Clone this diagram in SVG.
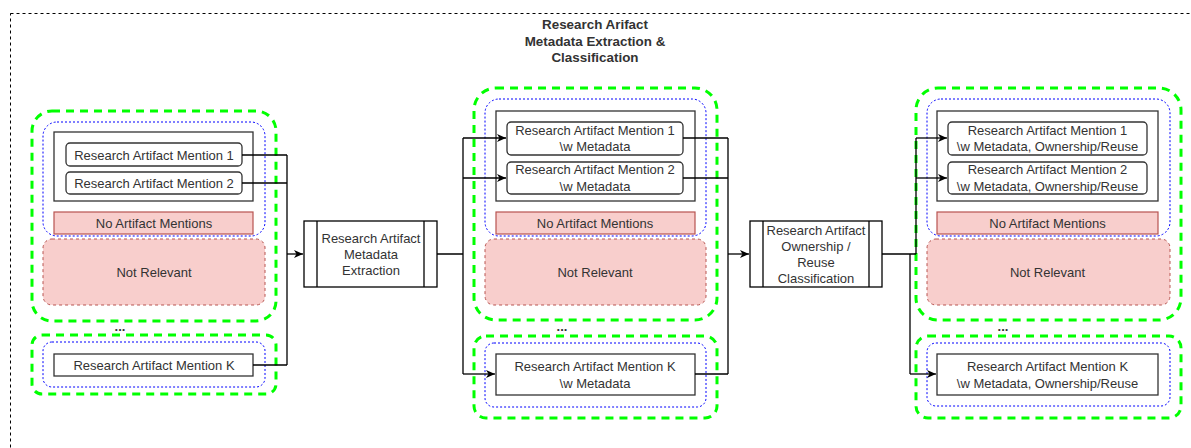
<svg xmlns="http://www.w3.org/2000/svg" width="1191" height="448" viewBox="0 0 1191 448">
  <style>
    text { font-family: "Liberation Sans", Arial, sans-serif; font-size: 13px; fill: #333333; text-anchor: middle; }
    .title { font-weight: bold; font-size: 13.4px; }
    .dots { font-weight: bold; }
    .frame { fill: none; stroke: #000000; stroke-width: 1; stroke-dasharray: 3 3; }
    .green { fill: none; stroke: #00ff00; stroke-width: 3; stroke-dasharray: 8 6; }
    .blue { fill: none; stroke: #0000ff; stroke-width: 1; stroke-dasharray: 2 2; }
    .box { fill: #ffffff; stroke: #333333; stroke-width: 1.3; }
    .item { fill: #ffffff; stroke: #333333; stroke-width: 1.3; }
    .none { fill: #f8cecc; stroke: #b85450; stroke-width: 1.2; }
    .irrelevant { fill: #f8cecc; stroke: #b85450; stroke-width: 1; stroke-dasharray: 3 3; }
    .proc { fill: #ffffff; stroke: #000000; stroke-width: 1.3; }
    .edge { fill: none; stroke: #000000; stroke-width: 1.3; }
    .arrow { marker-end: url(#head); }
  </style>
  <defs>
    <marker id="head" markerUnits="userSpaceOnUse" markerWidth="10" markerHeight="10" refX="9" refY="4" orient="auto">
      <path d="M0,0 L9,4 L0,8 L2.5,4 Z" fill="#000000"/>
    </marker>
  </defs>

  <rect class="frame" x="10.5" y="13.5" width="1200" height="460"/>

  <g id="title">
    <text class="title" x="595" y="29">Research Arifact</text>
    <text class="title" x="595" y="46">Metadata Extraction &amp;</text>
    <text class="title" x="595" y="62">Classification</text>
  </g>

  <!-- input mentions -->
  <g id="input-group">
    <rect class="green" x="32" y="111" width="244" height="210" rx="20"/>
    <rect class="blue" x="43" y="122" width="222" height="114" rx="14"/>
    <rect class="box" x="54" y="132" width="199" height="69"/>
    <g id="in-mention-1">
      <rect class="item" x="66" y="143" width="176" height="23" rx="4"/>
      <text x="154" y="159.5">Research Artifact Mention 1</text>
    </g>
    <g id="in-mention-2">
      <rect class="item" x="66" y="172" width="176" height="22" rx="4"/>
      <text x="154" y="187.5">Research Artifact Mention 2</text>
    </g>
    <g id="in-none">
      <rect class="none" x="54" y="212" width="199" height="22"/>
      <text x="154" y="227.5">No Artifact Mentions</text>
    </g>
    <g id="in-irrelevant">
      <rect class="irrelevant" x="43" y="239" width="222" height="66" rx="9"/>
      <text x="154" y="276.5">Not Relevant</text>
    </g>
    <text class="dots" x="120" y="331">...</text>
  </g>
  <g id="input-group-k">
    <rect class="green" x="32" y="335" width="244" height="59" rx="10"/>
    <rect class="blue" x="43" y="342" width="222" height="45" rx="9"/>
    <g id="in-mention-k">
      <rect class="box" x="54" y="354" width="199" height="22"/>
      <text x="154" y="369.5">Research Artifact Mention K</text>
    </g>
  </g>

  <!-- processing steps -->
  <g id="extraction">
    <rect class="proc" x="304" y="221" width="133" height="66"/>
    <line class="proc" x1="317" y1="221" x2="317" y2="287"/>
    <line class="proc" x1="424" y1="221" x2="424" y2="287"/>
    <text x="371" y="242.5">Research Artifact</text>
    <text x="371" y="258.5">Metadata</text>
    <text x="371" y="274.5">Extraction</text>
  </g>

  <g id="classification">
    <rect class="proc" x="750" y="221" width="132" height="66"/>
    <line class="proc" x1="763" y1="221" x2="763" y2="287"/>
    <line class="proc" x1="869" y1="221" x2="869" y2="287"/>
    <text x="816" y="234.5">Research Artifact</text>
    <text x="816" y="250.5">Ownership /</text>
    <text x="816" y="266.5">Reuse</text>
    <text x="816" y="282.5">Classification</text>
  </g>

  <!-- mentions with metadata -->
  <g id="metadata-group">
    <rect class="green" x="474" y="88" width="243" height="232" rx="22"/>
    <rect class="blue" x="485" y="99" width="221" height="137" rx="14"/>
    <rect class="box" x="496" y="111" width="199" height="90"/>
    <g id="md-mention-1">
      <rect class="item" x="507" y="122" width="176" height="33" rx="4"/>
      <text x="595" y="134.5">Research Artifact Mention 1</text>
      <text x="595" y="150.5">\w Metadata</text>
    </g>
    <g id="md-mention-2">
      <rect class="item" x="507" y="162" width="176" height="32" rx="4"/>
      <text x="595" y="173.5">Research Artifact Mention 2</text>
      <text x="595" y="190.5">\w Metadata</text>
    </g>
    <g id="md-none">
      <rect class="none" x="496" y="212" width="199" height="22"/>
      <text x="595" y="227.5">No Artifact Mentions</text>
    </g>
    <g id="md-irrelevant">
      <rect class="irrelevant" x="485" y="239" width="221" height="66" rx="9"/>
      <text x="595" y="276.5">Not Relevant</text>
    </g>
    <text class="dots" x="562" y="331">...</text>
  </g>
  <g id="metadata-group-k">
    <rect class="green" x="474" y="336" width="243" height="82" rx="12"/>
    <rect class="blue" x="485" y="343" width="221" height="64" rx="9"/>
    <g id="md-mention-k">
      <rect class="box" x="496" y="354" width="199" height="41"/>
      <text x="595" y="370.5">Research Artifact Mention K</text>
      <text x="595" y="387.5">\w Metadata</text>
    </g>
  </g>

  <!-- mentions with metadata and ownership/reuse -->
  <g id="classified-group">
    <rect class="green" x="916" y="88" width="265" height="232" rx="22"/>
    <rect class="blue" x="927" y="99" width="243" height="137" rx="14"/>
    <rect class="box" x="937" y="111" width="221" height="90"/>
    <g id="cl-mention-1">
      <rect class="item" x="948" y="122" width="199" height="33" rx="4"/>
      <text x="1047.5" y="134.5">Research Artifact Mention 1</text>
      <text x="1047.5" y="150.5">\w Metadata, Ownership/Reuse</text>
    </g>
    <g id="cl-mention-2">
      <rect class="item" x="948" y="162" width="199" height="32" rx="4"/>
      <text x="1047.5" y="173.5">Research Artifact Mention 2</text>
      <text x="1047.5" y="190.5">\w Metadata, Ownership/Reuse</text>
    </g>
    <g id="cl-none">
      <rect class="none" x="937" y="212" width="221" height="22"/>
      <text x="1047.5" y="227.5">No Artifact Mentions</text>
    </g>
    <g id="cl-irrelevant">
      <rect class="irrelevant" x="927" y="239" width="243" height="66" rx="9"/>
      <text x="1047.5" y="276.5">Not Relevant</text>
    </g>
    <text class="dots" x="1003" y="331">...</text>
  </g>
  <g id="classified-group-k">
    <rect class="green" x="916" y="336" width="265" height="82" rx="12"/>
    <rect class="blue" x="927" y="343" width="243" height="63" rx="9"/>
    <g id="cl-mention-k">
      <rect class="box" x="937" y="354" width="221" height="41"/>
      <text x="1047.5" y="370.5">Research Artifact Mention K</text>
      <text x="1047.5" y="387.5">\w Metadata, Ownership/Reuse</text>
    </g>
  </g>

  <!-- connectors -->
  <g id="connectors">
    <path class="edge" d="M242,155 H287 M242,183 H287 M253,365 H287 M287,155 V365"/>
    <path class="edge arrow" d="M287,254 H303"/>
    <path class="edge" d="M437,254 H463 M463,138 V374"/>
    <path class="edge arrow" d="M463,138 H506"/>
    <path class="edge arrow" d="M463,178 H506"/>
    <path class="edge arrow" d="M463,374 H495"/>
    <path class="edge" d="M683,138 H728 M683,178 H728 M695,374 H728 M728,138 V374"/>
    <path class="edge arrow" d="M728,254 H749"/>
    <path class="edge" d="M882,254 H916 M916,138 V254 M910,254 V374"/>
    <path class="edge arrow" d="M916,138 H947"/>
    <path class="edge arrow" d="M916,178 H947"/>
    <path class="edge arrow" d="M910,374 H936"/>
  </g>
</svg>
